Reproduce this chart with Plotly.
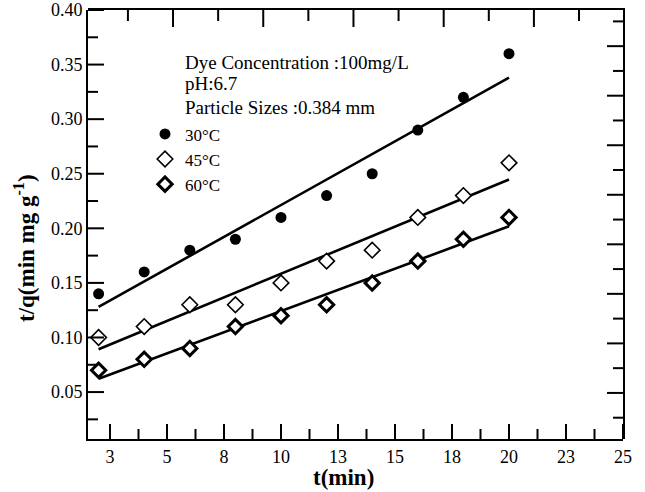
import numpy as np
import plotly.graph_objects as go

# Pseudo-second-order kinetics: t/q versus t at three temperatures
t_min = [2, 4, 6, 8, 10, 12, 14, 16, 18, 20]
tq_30C = [0.14, 0.16, 0.18, 0.19, 0.21, 0.23, 0.25, 0.29, 0.32, 0.36]
tq_45C = [0.10, 0.11, 0.13, 0.13, 0.15, 0.17, 0.18, 0.21, 0.23, 0.26]
tq_60C = [0.07, 0.08, 0.09, 0.11, 0.12, 0.13, 0.15, 0.17, 0.19, 0.21]

series_names = ["30°C", "45°C", "60°C"]

# bottom axis: labelled major ticks, unlabelled minor ticks halfway between
x_tick_vals = [2.5, 5, 7.5, 10, 12.5, 15, 17.5, 20, 22.5, 25]
x_tick_text = ["3", "5", "8", "10", "13", "15", "18", "20", "23", "25"]
x_minor_vals = [(a + b) / 2 for a, b in zip(x_tick_vals[:-1], x_tick_vals[1:])]

# left axis
y_tick_vals = [0.05, 0.10, 0.15, 0.20, 0.25, 0.30, 0.35, 0.40]
y_tick_text = ["0.05", "0.10", "0.15", "0.20", "0.25", "0.30", "0.35", "0.40"]
y_minor_vals = [0.025, 0.075, 0.125, 0.175, 0.225, 0.275, 0.325, 0.375]

# frame axes (top / right) carry their own unlabelled tick rows
top_major_vals = [4, 8, 12, 16, 20]
top_minor_vals = [2, 6, 10, 14, 18, 22]
right_major_vals = [1, 2, 3, 4, 5, 6, 7, 8]
right_minor_vals = [0.5, 1.5, 2.5, 3.5, 4.5, 5.5, 6.5, 7.5, 8.5]

info_lines = ["Dye Concentration :100mg/L", "pH:6.7", "Particle Sizes :0.384 mm"]

FONT = "Liberation Serif, Times New Roman, serif"
INK = "#000000"

WIDTH, HEIGHT = 645, 492
MARGIN = dict(l=88, r=22, t=10, b=53)
PLOT_W = WIDTH - MARGIN["l"] - MARGIN["r"]
PLOT_H = HEIGHT - MARGIN["t"] - MARGIN["b"]

marker_styles = [
    dict(symbol="circle", size=11, color=INK, line=dict(width=0)),
    dict(symbol="diamond", size=12, color="white", line=dict(width=1.6, color=INK)),
    dict(symbol="diamond", size=11, color="white", line=dict(width=3, color=INK)),
]

fig = go.Figure()

# frame subplot sharing the plot area
fig.add_trace(go.Scatter(x=[], y=[], xaxis="x2", yaxis="y2", showlegend=False))

for name, values, style in zip(series_names, [tq_30C, tq_45C, tq_60C], marker_styles):
    # least-squares straight line through each temperature series
    slope, intercept = np.polyfit(t_min, values, 1)
    t_line = np.array([min(t_min), max(t_min)])
    fig.add_trace(go.Scatter(
        x=t_line, y=slope * t_line + intercept, mode="lines",
        line=dict(color=INK, width=2.6), showlegend=False, hoverinfo="skip",
    ))
    fig.add_trace(go.Scatter(
        x=t_min, y=values, mode="markers", name=name, marker=style,
    ))


def vertical_ticks(vals, axis, edge, length_px):
    """Inward tick marks on a horizontal frame edge (edge 0 = bottom, 1 = top)."""
    inner = edge + (length_px / PLOT_H) * (1 if edge == 0 else -1)
    return [dict(type="line", xref=axis, yref="paper", x0=v, x1=v, y0=edge, y1=inner,
                 line=dict(color=INK, width=2)) for v in vals]


def horizontal_ticks(vals, axis, edge, length_px):
    """Inward tick marks on a vertical frame edge (edge 0 = left, 1 = right)."""
    inner = edge + (length_px / PLOT_W) * (1 if edge == 0 else -1)
    return [dict(type="line", xref="paper", yref=axis, y0=v, y1=v, x0=edge, x1=inner,
                 line=dict(color=INK, width=2)) for v in vals]


shapes = (
    vertical_ticks(x_tick_vals, "x", 0, 15) + vertical_ticks(x_minor_vals, "x", 0, 10)
    + vertical_ticks(top_major_vals, "x2", 1, 17) + vertical_ticks(top_minor_vals, "x2", 1, 11)
    + horizontal_ticks(y_tick_vals, "y", 0, 16) + horizontal_ticks(y_minor_vals, "y", 0, 10)
    + horizontal_ticks(right_major_vals, "y2", 1, 16) + horizontal_ticks(right_minor_vals, "y2", 1, 10)
)

info_y_px = [62, 84, 107]

annotations = [
    dict(text=line, xref="paper", yref="paper",
         x=(183 - 88) / PLOT_W, y=1 - (ypx - 10) / PLOT_H,
         xanchor="left", yanchor="middle", showarrow=False,
         font=dict(family=FONT, size=19, color=INK))
    for line, ypx in zip(info_lines, info_y_px)
]
annotations.append(dict(
    text="<b>t(min)</b>", xref="paper", yref="paper",
    x=(343 - 88) / PLOT_W, y=-0.09, xanchor="center", yanchor="middle",
    showarrow=False, font=dict(family=FONT, size=23, color=INK),
))
annotations.append(dict(
    text="<b>t/q(min mg g<sup>-1</sup>)</b>", xref="paper", yref="paper",
    x=(24 - 88) / PLOT_W, y=1 - (248 - 10) / PLOT_H, xanchor="center", yanchor="middle",
    textangle=-90, showarrow=False, font=dict(family=FONT, size=23, color=INK),
))

frame = dict(showline=True, linewidth=2, linecolor=INK, showgrid=False, zeroline=False,
             ticks="", automargin=False)

fig.update_layout(
    template="none",
    width=WIDTH, height=HEIGHT,
    margin=dict(**MARGIN, autoexpand=False),
    paper_bgcolor="white", plot_bgcolor="rgba(0,0,0,0)",
    font=dict(family=FONT, color=INK, size=18),
    showlegend=True,
    xaxis=dict(
        **frame, domain=[0, 1], anchor="y", range=[1.535, 25],
        tickmode="array", tickvals=x_tick_vals, ticktext=x_tick_text,
    ),
    yaxis=dict(
        **frame, domain=[0, 1], anchor="x", range=[0.007, 0.40],
        tickmode="array", tickvals=y_tick_vals, ticktext=y_tick_text,
    ),
    xaxis2=dict(
        **frame, domain=[0, 1], anchor="y2", side="top",
        range=[0.23, 23.95], showticklabels=False,
    ),
    yaxis2=dict(
        **frame, domain=[0, 1], anchor="x2", side="right",
        range=[0.07, 8.73], showticklabels=False,
    ),
    legend=dict(
        x=(145 - 88) / PLOT_W, y=0.752, xanchor="left", yanchor="top",
        bgcolor="rgba(0,0,0,0)", borderwidth=0,
        font=dict(family=FONT, size=17, color=INK),
    ),
    shapes=shapes,
    annotations=annotations,
)

fig.write_html("out.html")
